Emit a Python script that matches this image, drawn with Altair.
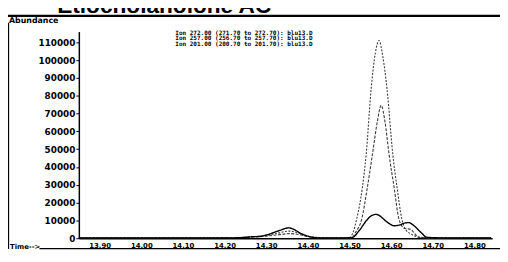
import altair as alt
import pandas as pd

# ---- data ----
t_272 = [13.85, 13.95, 14.05, 14.15, 14.22, 14.25, 14.28, 14.30, 14.33, 14.355, 14.38, 14.40, 14.42, 14.46,
         14.50, 14.508, 14.517, 14.531, 14.540, 14.552, 14.562, 14.571, 14.580, 14.590, 14.604, 14.614,
         14.626, 14.636, 14.647, 14.66, 14.68, 14.72, 14.78, 14.84]
v_272 = [200, 200, 200, 200, 300, 600, 1000, 1500, 3000, 4000, 2800, 1200, 500, 200,
         300, 3000, 10500, 28700, 47000, 84000, 104000, 111000, 102000, 84000, 47000, 28700,
         10500, 4500, 2500, 1000, 400, 200, 200, 200]

t_257 = [13.85, 13.95, 14.05, 14.15, 14.22, 14.25, 14.28, 14.30, 14.33, 14.355, 14.38, 14.40, 14.42, 14.46,
         14.505, 14.515, 14.529, 14.543, 14.555, 14.567, 14.576, 14.585, 14.595, 14.607, 14.619, 14.632,
         14.647, 14.657, 14.666, 14.69, 14.75, 14.84]
v_257 = [150, 150, 150, 150, 250, 500, 800, 1200, 2000, 2600, 2000, 900, 400, 150,
         300, 3500, 10500, 28700, 47000, 65700, 74600, 65700, 47000, 28700, 10500, 5500,
         5000, 2500, 500, 200, 150, 150]

t_201 = [13.85, 13.95, 14.05, 14.15, 14.22, 14.25, 14.27, 14.283, 14.30, 14.33, 14.354, 14.37, 14.382,
         14.40, 14.418, 14.45, 14.505, 14.524, 14.541, 14.553, 14.564, 14.575, 14.583, 14.595, 14.607,
         14.62, 14.632, 14.642, 14.655, 14.673, 14.685, 14.72, 14.78, 14.84]
v_201 = [100, 100, 100, 100, 200, 500, 900, 1000, 1800, 4200, 5800, 4500, 2800,
         1200, 300, 100, 300, 4500, 10000, 12700, 13400, 12200, 10500, 8300, 7000,
         7400, 8500, 8800, 7000, 2900, 600, 200, 100, 100]

x_ticks = [13.90, 14.00, 14.10, 14.20, 14.30, 14.40, 14.50, 14.60, 14.70, 14.80]
y_ticks = [0, 10000, 20000, 30000, 40000, 50000, 60000, 70000, 80000, 90000, 100000, 110000]

legend_lines = [
    "Ion 272.00 (271.70 to 272.70): blu13.D",
    "Ion 257.00 (256.70 to 257.70): blu13.D",
    "Ion 201.00 (200.70 to 201.70): blu13.D",
]
title_text = "Etiocholanolone AC"

# ---- scales ----
xs = alt.Scale(domain=[13.85, 14.8425], nice=False, zero=False)
ys = alt.Scale(domain=[0, 116000], nice=False)

one = pd.DataFrame({"a": [0]})

x_axis = alt.Axis(values=x_ticks, format=".2f", title=None, ticks=False,
                  labelFont="DejaVu Sans", labelFontWeight="bold",
                  labelFontSize=7, labelPadding=3, labelColor="black",
                  domainColor="black", domainWidth=1.5, grid=False)
y_axis = alt.Axis(values=y_ticks, format="d", title=None, tickSize=3,
                  tickColor="black", labelFont="DejaVu Sans",
                  labelFontWeight="bold", labelFontSize=9, labelPadding=1,
                  labelColor="black", domainColor="black", domainWidth=1.5,
                  grid=False)


def series(t, v, dash, width, color):
    df = pd.DataFrame({"t": t, "v": v})
    return alt.Chart(df).mark_line(strokeDash=dash, strokeWidth=width, color=color,
                                   interpolate="monotone").encode(
        x=alt.X("t:Q", scale=xs, axis=x_axis),
        y=alt.Y("v:Q", scale=ys, axis=y_axis),
    )


l272 = series(t_272, v_272, [2, 1.5], 1.1, "#3a3a3a")
l257 = series(t_257, v_257, [3, 1.5], 1.1, "#3a3a3a")
l201 = series(t_201, v_201, [1, 0], 1.4, "black")


def label(text, x, y, size, font="DejaVu Sans"):
    return alt.Chart(one).mark_text(text=text, font=font, fontWeight="bold", fontSize=size,
                                    align="left", baseline="alphabetic", color="black").encode(
        x=alt.value(x), y=alt.value(y))


# ---- annotations (page furniture of the printout) ----
title = alt.Chart(one).mark_text(text=title_text, font="Liberation Sans", fontWeight="bold", fontSize=23,
                                 align="left", baseline="alphabetic", color="black").encode(
    x=alt.value(-22), y=alt.value(-19))
title_rule = alt.Chart(one).mark_rule(color="black", strokeWidth=2.5).encode(
    x=alt.value(-72), x2=alt.value(428), y=alt.value(-16))
abund = label("Abundance", -71, -9, 8)
left_rule = alt.Chart(one).mark_rule(color="black", strokeWidth=1.3).encode(
    x=alt.value(-71.5), y=alt.value(-9), y2=alt.value(221))
time_txt = label("Time-->", -70, 221, 7)
bottom_rule = alt.Chart(one).mark_rule(color="black", strokeWidth=1.3).encode(
    x=alt.value(-40), x2=alt.value(428), y=alt.value(220.5))

leg = [label(txt, 98, 3 + 6 * i, 6.1, font="DejaVu Sans Mono") for i, txt in enumerate(legend_lines)]

chart = alt.layer(l272, l257, l201, title, title_rule, abund, left_rule, time_txt, bottom_rule, *leg).properties(
    width=420, height=210,
    padding={"left": 72, "top": 22, "right": 8, "bottom": 12},
    autosize=alt.AutoSizeParams(type="none"),
    background="white",
).configure_view(stroke=None)

chart.save("out.html", embed_options={"renderer": "svg", "actions": False})
